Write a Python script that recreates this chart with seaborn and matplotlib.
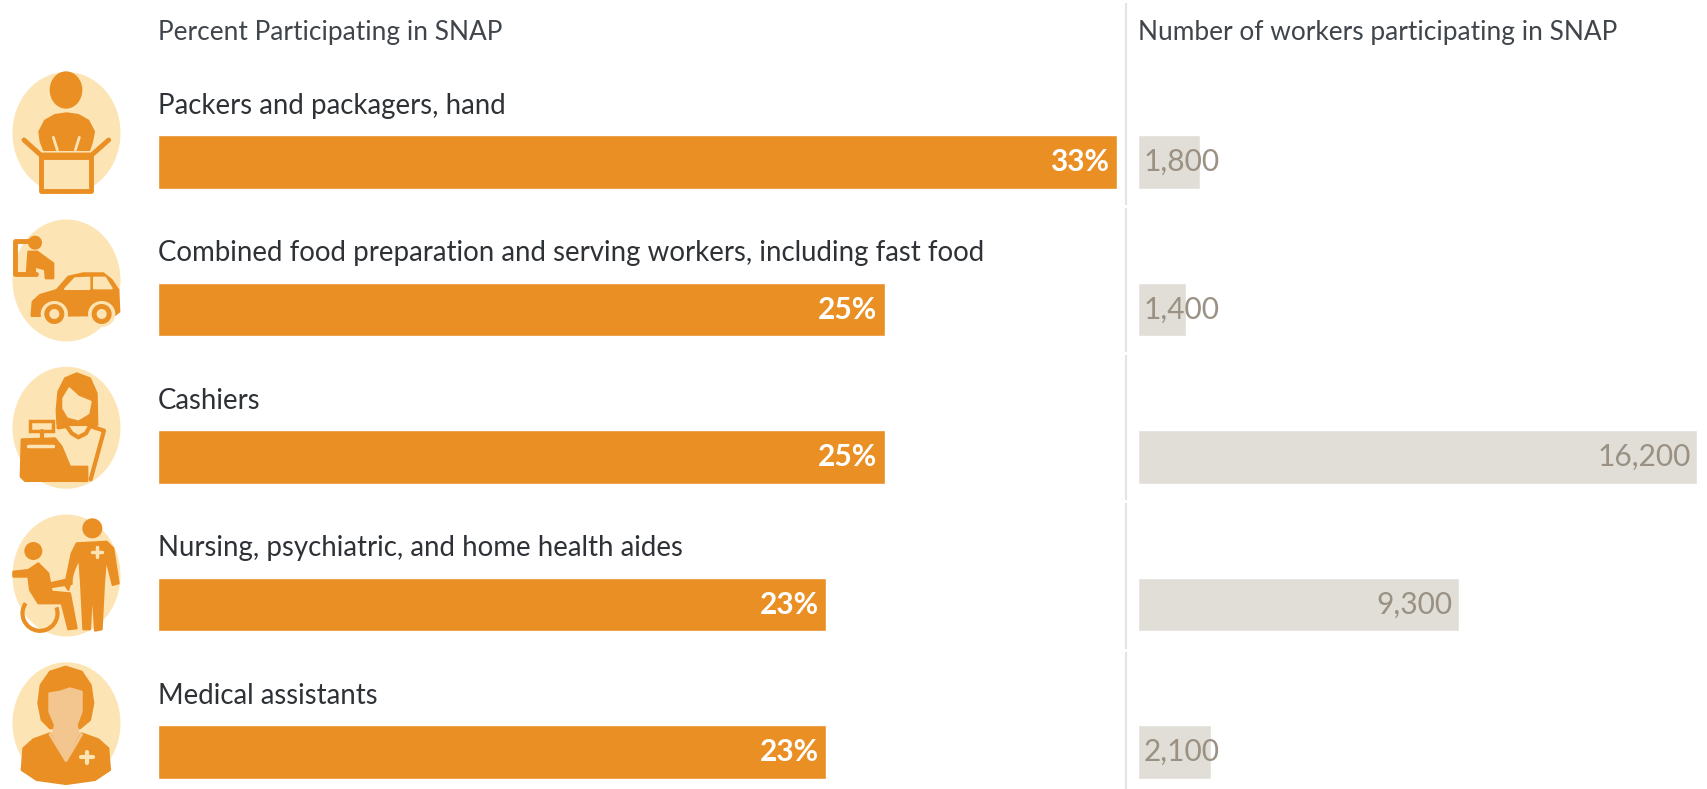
import matplotlib
matplotlib.use("Agg")
import matplotlib.pyplot as plt
import seaborn as sns
from matplotlib.patches import Ellipse, Polygon, Rectangle, Arc

occupations = ["Packers and packagers, hand",
               "Combined food preparation and serving workers, including fast food",
               "Cashiers",
               "Nursing, psychiatric, and home health aides",
               "Medical assistants"]
percent = [33, 25, 25, 23, 23]
workers = [1800, 1400, 16200, 9300, 2100]
percent_title = "Percent Participating in SNAP"
workers_title = "Number of workers participating in SNAP"

ORANGE = "#EA8F23"
LIGHT = "#FDE4B5"
TAN = "#F3C68F"
GREY_BAR = "#E0DED6"
GREY_TEXT = "#9A9184"
DARK = "#2E3236"
FONT = ["Lato", "DejaVu Sans"]

W, H = 1708, 789

sns.set_theme(style="white")
plt.rcParams["font.family"] = FONT

fig = plt.figure(figsize=(W / 100, H / 100), dpi=100, facecolor="white")

# pixel layer for the separator and the icons
bg = fig.add_axes([0, 0, 1, 1])
bg.set_xlim(0, W)
bg.set_ylim(H, 0)
bg.axis("off")

ax1 = fig.add_axes([158 / W, 0, 959 / W, 1])
ax2 = fig.add_axes([1138 / W, 0, 559.4 / W, 1])
ax1.patch.set_alpha(0)
ax2.patch.set_alpha(0)

sns.barplot(x=percent, y=occupations, orient="h", color=ORANGE, saturation=1,
            width=0.362, ax=ax1)
sns.barplot(x=workers, y=occupations, orient="h", color=GREY_BAR, saturation=1,
            width=0.362, ax=ax2)

ax1.set_xlim(0, 33)
ax2.set_xlim(0, 16200)
for ax in [ax1, ax2]:
    ax.set_ylim(4.25, -1.099)
    ax.axis("off")

for i, name in enumerate(occupations):
    ax1.text(0, i - 56.5 / 147.5, name, fontsize=19.9, color=DARK, va="center", ha="left")
    ax1.annotate(f"{percent[i]}%", (percent[i], i), xytext=(-5.5, 0), textcoords="offset points",
                 ha="right", va="center", fontsize=21.5, color="white", fontweight="bold")
    label = f"{workers[i]:,}"
    if workers[i] < 3000:
        ax2.annotate(label, (0, i), xytext=(4, 0), textcoords="offset points",
                     ha="left", va="center", fontsize=21.5, color=GREY_TEXT)
    else:
        ax2.annotate(label, (workers[i], i), xytext=(-4.5, 0), textcoords="offset points",
                     ha="right", va="center", fontsize=21.5, color=GREY_TEXT)

ax1.text(0, -130 / 147.5, percent_title, fontsize=18.9, color="#3F454B", va="center", ha="left")
ax2.text(0, -130 / 147.5, workers_title, fontsize=18.95, color="#3F454B", va="center", ha="left")

# separator, broken between rows
for y0, y1 in [(3, 205), (208, 352), (355, 500), (503, 649), (652, 789)]:
    bg.plot([1126, 1126], [y0, y1], color="#E6E4DE", lw=1.5, solid_capstyle="butt")


# icons: coordinates are pixels x 3, offset dy down the picture
def P(pts, dy=0):
    return [(x / 3, y / 3 + dy) for x, y in pts]


def poly(pts, dy=0, color=ORANGE, z=2, lw=1.5):
    bg.add_patch(Polygon(P(pts, dy), closed=True, fc=color, ec=color, lw=lw, joinstyle="round", zorder=z))


def line(pts, dy=0, color=ORANGE, lw=3.5, z=3):
    xy = P(pts, dy)
    bg.plot([p[0] for p in xy], [p[1] for p in xy], color=color, lw=lw, zorder=z,
            solid_capstyle="round", solid_joinstyle="round")


def oval(cx, cy, w, h, dy=0, color=ORANGE, z=3):
    bg.add_patch(Ellipse((cx / 3, cy / 3 + dy), w / 3, h / 3, fc=color, ec="none", zorder=z))


for cy in [133, 280.5, 427.8, 575.5, 723.3]:
    bg.add_patch(Ellipse((66.5, cy), 108, 122, fc=LIGHT, ec="none", zorder=1))

# packer
oval(198, 270, 98, 112)
poly([(132, 450), (122, 425), (118, 395), (135, 362), (165, 345), (200, 340), (235, 345),
      (265, 362), (282, 395), (276, 425), (268, 450)])
line([(160, 412), (172, 450)], color=LIGHT, lw=2)
line([(238, 412), (226, 450)], color=LIGHT, lw=2)
bg.add_patch(Rectangle((124 / 3, 470 / 3), 150 / 3, 103 / 3, fc=LIGHT, ec=ORANGE, lw=3.5,
                       joinstyle="round", zorder=3))
line([(72, 420), (122, 465), (275, 465), (326, 420)])

# drive through
line([(98, 724), (45, 724), (45, 822), (108, 822)])
oval(105, 728, 42, 42)
poly([(85, 755), (112, 755), (160, 790), (160, 835), (137, 835), (135, 808), (105, 800),
      (105, 825), (80, 825)])
poly([(95, 942), (98, 905), (120, 885), (170, 870), (205, 830), (250, 820), (310, 820),
      (335, 840), (355, 870), (358, 935), (345, 945), (95, 948)])
poly([(195, 867), (225, 835), (268, 833), (268, 867)], color=LIGHT, z=3)
poly([(282, 833), (315, 833), (335, 865), (282, 865)], color=LIGHT, z=3)
for cx in [163, 305]:
    oval(cx, 942, 82, 78, color=LIGHT, z=3)
    oval(cx, 942, 60, 60, z=4)
    oval(cx, 942, 30, 30, color=LIGHT, z=5)

# cashier
dy = 350
poly([(230, 70), (195, 85), (175, 125), (170, 180), (172, 225), (292, 225), (290, 130),
      (270, 85)], dy)
poly([(190, 145), (208, 115), (235, 140), (272, 155), (265, 190), (235, 208), (205, 200),
      (190, 175)], dy, color=LIGHT, z=3)
poly([(65, 268), (165, 265), (185, 290), (210, 350), (262, 350), (262, 393), (75, 393),
      (62, 380)], dy)
bg.add_patch(Rectangle((90 / 3, 212 / 3 + dy), 68 / 3, 30 / 3, fc=LIGHT, ec=ORANGE, lw=2.5, zorder=3))
line([(125, 243), (125, 265)], dy, lw=3)
line([(85, 288), (160, 288)], dy, color=LIGHT, lw=2.5, z=4)
line([(175, 232), (200, 228), (215, 250), (235, 262), (258, 250), (270, 228), (312, 242),
      (272, 388)], dy, lw=3)

# nursing aides
oval(277, 535, 60, 60, dy)
poly([(230, 580), (320, 575), (340, 595), (356, 700), (338, 705), (318, 625), (312, 700),
      (305, 838), (285, 842), (277, 710), (270, 838), (250, 838), (243, 700), (238, 625),
      (222, 660), (205, 720), (195, 705), (215, 610)], dy)
line([(290, 590), (290, 622)], dy, color=LIGHT, lw=2.5, z=4)
line([(275, 606), (305, 606)], dy, color=LIGHT, lw=2.5, z=4)
oval(100, 603, 54, 54, dy)
poly([(85, 660), (115, 640), (145, 670), (155, 725), (210, 730), (230, 835), (205, 838),
      (185, 760), (115, 760), (90, 720), (85, 680), (40, 680), (40, 665)], dy)
poly([(150, 700), (215, 685), (215, 702), (150, 712)], dy)
bg.add_patch(Arc((120 / 3, 790 / 3 + dy), 105 / 3, 105 / 3, theta1=-20, theta2=215, ec=ORANGE, lw=3, zorder=3))

# medical assistant
poly([(197, 950), (150, 965), (122, 1005), (115, 1060), (125, 1110), (150, 1135), (240, 1135),
      (270, 1110), (280, 1060), (272, 1005), (245, 965)], dy)
poly([(148, 1030), (180, 1025), (210, 1015), (245, 1025), (245, 1085), (230, 1125), (240, 1165),
      (198, 1235), (155, 1165), (165, 1125), (148, 1085)], dy, color=TAN, z=3)
poly([(150, 1150), (100, 1168), (70, 1195), (65, 1260), (110, 1290), (198, 1302), (285, 1290),
      (330, 1260), (325, 1195), (295, 1168), (245, 1150), (198, 1235)], dy, z=3)
line([(150, 1153), (198, 1232), (245, 1153)], dy, color=TAN, lw=2, z=4)
line([(260, 1205), (260, 1240)], dy, color=LIGHT, lw=3, z=4)
line([(243, 1222), (278, 1222)], dy, color=LIGHT, lw=3, z=4)

fig.savefig("out.png", dpi=100)
plt.close(fig)
